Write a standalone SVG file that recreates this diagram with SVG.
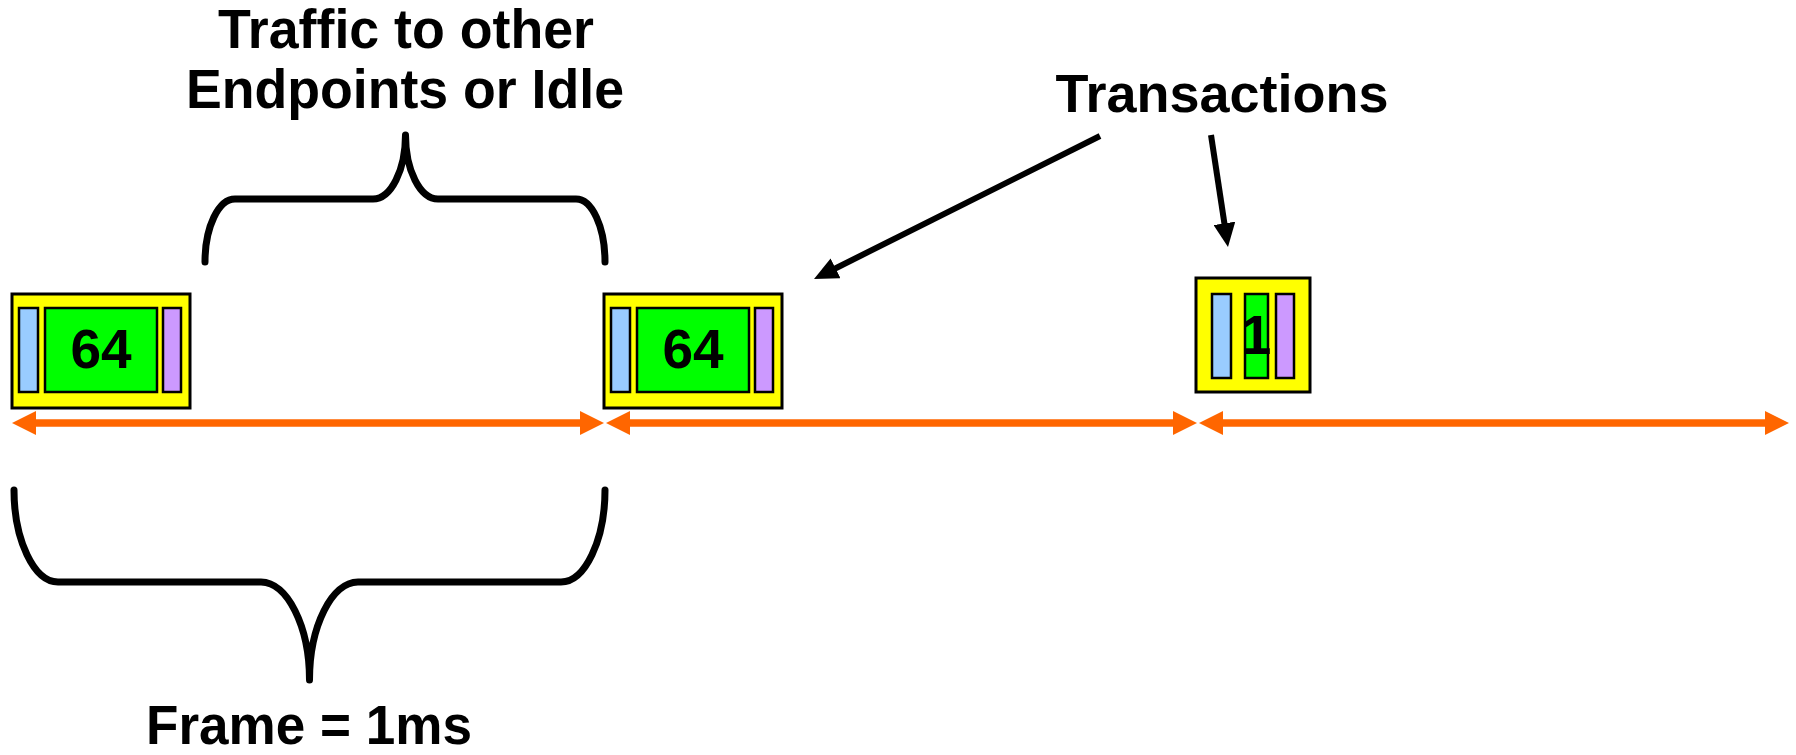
<svg xmlns="http://www.w3.org/2000/svg" width="1796" height="755" viewBox="0 0 1796 755">
<style>
.lbl{font-family:"Liberation Sans",Arial,sans-serif;font-weight:bold;fill:#000;text-anchor:middle}
.outer{fill:#FFFF00;stroke:#000;stroke-width:3}
.hdr{fill:#99CCFF;stroke:#000;stroke-width:2.5}
.dat{fill:#00FF00;stroke:#000;stroke-width:2.5}
.crc{fill:#CC99FF;stroke:#000;stroke-width:2.5}
.brace{fill:none;stroke:#000;stroke-width:7;stroke-linecap:round;stroke-linejoin:round}
.frame{fill:none;stroke:#FF6600;stroke-width:7.5;marker-start:url(#oa);marker-end:url(#oa)}
.ptr{fill:none;stroke:#000;stroke-width:6;marker-end:url(#ba)}
</style>
<defs>
<marker id="oa" viewBox="0 0 24 24" refX="2" refY="12" markerWidth="24" markerHeight="24" markerUnits="userSpaceOnUse" orient="auto-start-reverse">
<path d="M0,0 L24,12 L0,24 z" fill="#FF6600"/>
</marker>
<marker id="ba" viewBox="0 0 24 22" refX="2" refY="11" markerWidth="24" markerHeight="22" markerUnits="userSpaceOnUse" orient="auto">
<path d="M0,0 L24,11 L0,22 z" fill="#000"/>
</marker>
</defs>

<g id="label-traffic">
<text class="lbl" x="406" y="48" font-size="55" textLength="376" lengthAdjust="spacingAndGlyphs">Traffic to other</text>
<text class="lbl" x="405" y="108" font-size="55" textLength="438" lengthAdjust="spacingAndGlyphs">Endpoints or Idle</text>
</g>
<g id="label-transactions">
<text class="lbl" x="1222" y="112" font-size="54">Transactions</text>
</g>
<g id="label-frame">
<text class="lbl" x="309" y="744" font-size="55" textLength="326" lengthAdjust="spacingAndGlyphs">Frame = 1ms</text>
</g>

<g id="brace-top">
<path class="brace" d="M205,262 C205,227 218.5,199 235,199 L373,199 C391,199 405.5,170 405.5,135 C405.5,170 420,199 438,199 L576,199 C592,199 605,227 605,262"/>
</g>
<g id="brace-bottom">
<path class="brace" d="M14,490 C14,540 34,582 58,582 L261,582 C287,582 309.5,626 309.5,680 C309.5,626 332,582 358,582 L561,582 C585,582 605,540 605,490"/>
</g>

<g id="transaction-1">
<rect class="outer" x="12" y="294" width="178" height="114"/>
<rect class="hdr" x="19" y="308" width="19" height="84"/>
<rect class="dat" x="45" y="308" width="112" height="84"/>
<rect class="crc" x="163" y="308" width="18" height="84"/>
<text class="lbl" x="101" y="368" font-size="55">64</text>
</g>
<g id="transaction-2">
<rect class="outer" x="604" y="294" width="178" height="114"/>
<rect class="hdr" x="611" y="308" width="19" height="84"/>
<rect class="dat" x="637" y="308" width="112" height="84"/>
<rect class="crc" x="755" y="308" width="18" height="84"/>
<text class="lbl" x="693" y="368" font-size="55">64</text>
</g>
<g id="transaction-3">
<rect class="outer" x="1196" y="278" width="114" height="114"/>
<rect class="hdr" x="1212" y="294" width="19" height="84"/>
<rect class="dat" x="1245" y="294" width="23" height="84"/>
<rect class="crc" x="1276" y="294" width="18" height="84"/>
<text class="lbl" x="1256" y="354" font-size="55">1</text>
</g>

<g id="connectors">
<line class="frame" x1="34" y1="423" x2="582" y2="423"/>
<line class="frame" x1="628" y1="423" x2="1175" y2="423"/>
<line class="frame" x1="1221" y1="423" x2="1767" y2="423"/>
<line class="ptr" x1="1100" y1="136" x2="833.7" y2="269.2"/>
<line class="ptr" x1="1211" y1="135" x2="1224.7" y2="225.3"/>
</g>
</svg>
